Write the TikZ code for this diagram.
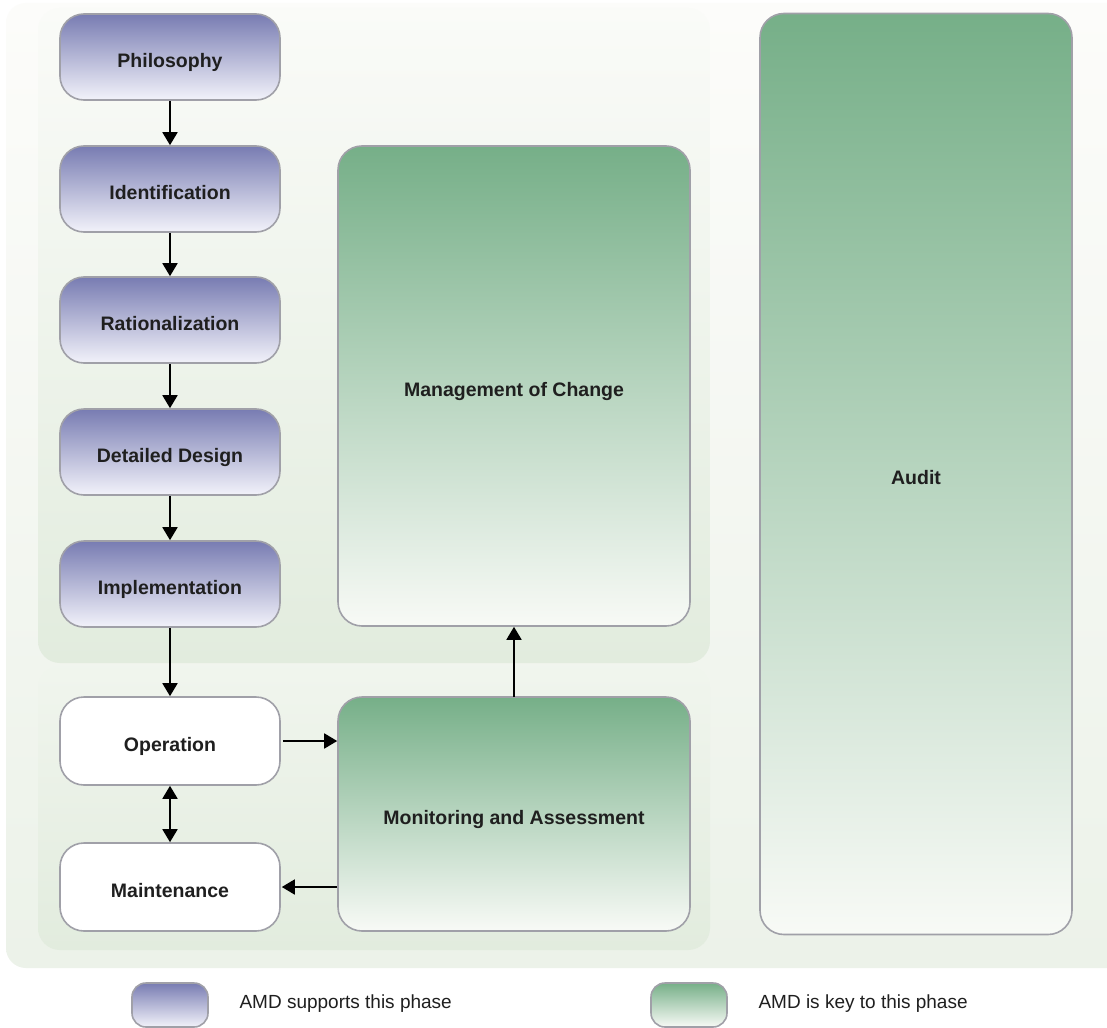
\documentclass[tikz,border=0pt]{standalone}
\usepackage{fontspec}
\setmainfont{Liberation Sans}
\usetikzlibrary{arrows.meta,positioning}
\definecolor{bluetop}{RGB}{120,124,178}
\definecolor{bluebot}{RGB}{242,242,250}
\definecolor{greentop}{RGB}{118,175,136}
\definecolor{greenbot}{RGB}{248,250,246}
\definecolor{edgegray}{RGB}{160,160,168}
\definecolor{panelA}{RGB}{250,251,248}
\definecolor{panelB}{RGB}{226,236,222}
\definecolor{outerA}{RGB}{252,252,250}
\definecolor{outerB}{RGB}{236,242,233}
\tikzset{
  px/.style={x=1pt,y=-1pt},
  phase/.style={rounded corners=24pt,draw=edgegray,line width=1.6pt,
     font=\fontsize{19.5}{22}\selectfont\bfseries,text=black!88,inner sep=0pt,
     text height=21pt,text depth=0pt},
  bluebox/.style={phase,top color=bluetop,bottom color=bluebot,middle color=bluetop!50!bluebot},
  greenbox/.style={phase,top color=greentop,bottom color=greenbot},
  whitebox/.style={phase,fill=white},
  panel/.style={rounded corners=22pt,draw=none},
  conn/.style={line width=1.8pt,-{Triangle[length=13pt,width=15pt]}},
  conn2/.style={line width=1.8pt,{Triangle[length=13pt,width=15pt]}-{Triangle[length=13pt,width=15pt]}},
  legtext/.style={font=\fontsize{19}{22}\selectfont,anchor=west,text=black!88}
}
\begin{document}
\begin{tikzpicture}[px]
\useasboundingbox (0,0) rectangle (1107,1027);
\fill[white] (0,0) rectangle (1107,1027);
% outer background
\shade[top color=outerA,bottom color=outerB,rounded corners=20pt] (6,3) rectangle (1130,968);
% panels
\shade[panel,top color=panelA,bottom color=panelB] (38,8) rectangle (710,663);
\shade[panel,top color=panelA!60!panelB,bottom color=panelB] (38,666) rectangle (710,950);
% blue phases
\node[bluebox,minimum width=220pt,minimum height=86pt] (phil) at (170,57) {Philosophy};
\node[bluebox,minimum width=220pt,minimum height=86pt] (iden) at (170,189) {Identification};
\node[bluebox,minimum width=220pt,minimum height=86pt] (rati) at (170,320) {Rationalization};
\node[bluebox,minimum width=220pt,minimum height=86pt] (deta) at (170,452) {Detailed Design};
\node[bluebox,minimum width=220pt,minimum height=86pt] (impl) at (170,584) {Implementation};
% white phases
\node[whitebox,minimum width=220pt,minimum height=88pt] (oper) at (170,741) {Operation};
\node[whitebox,minimum width=220pt,minimum height=88pt] (main) at (170,887) {Maintenance};
% green phases
\node[greenbox,minimum width=352pt,minimum height=480pt] (moc) at (514,386) {Management of Change};
\node[greenbox,minimum width=352pt,minimum height=234pt] (mon) at (514,814) {Monitoring and Assessment};
\node[greenbox,minimum width=312pt,minimum height=921pt] (audit) at (916,474) {Audit};
% connectors
\draw[conn] (phil) -- (iden);
\draw[conn] (iden) -- (rati);
\draw[conn] (rati) -- (deta);
\draw[conn] (deta) -- (impl);
\draw[conn] (impl) -- (oper);
\draw[conn2] (oper) -- (main);
\draw[conn] (oper.east) ++(2pt,0) coordinate (oe) (oe) -- (mon.west |- oe);
\coordinate (me) at (mon.west |- main.east);
\draw[conn] (me) -- ([xshift=1pt]main.east);
\draw[conn] (mon) ++(0,-117) coordinate (mt) (mt) -- (moc.south);
% legend
\node[rounded corners=14pt,draw=edgegray,line width=1.6pt,top color=bluetop,bottom color=bluebot,minimum width=76pt,minimum height=44pt,inner sep=0pt] (lb) at (170,1005) {};
\node[legtext] (lbt) at (236,1004) {AMD supports this phase};
\node[rounded corners=14pt,draw=edgegray,line width=1.6pt,top color=greentop,bottom color=greenbot,minimum width=76pt,minimum height=44pt,inner sep=0pt] (lg) at (689,1005) {};
\node[legtext] (lgt) at (755,1004) {AMD is key to this phase};
\end{tikzpicture}
\end{document}
